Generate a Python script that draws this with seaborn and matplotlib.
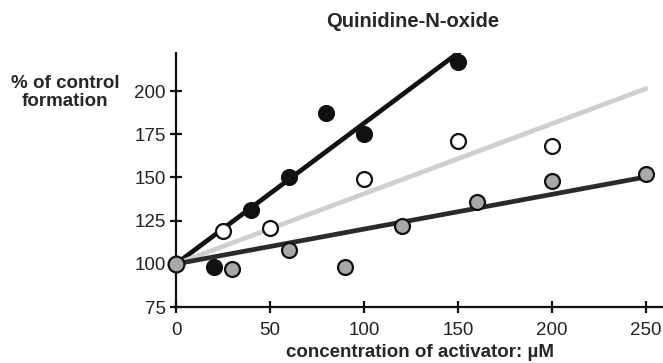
import matplotlib
matplotlib.use("Agg")
import matplotlib.pyplot as plt
import seaborn as sns
import numpy as np
import pandas as pd

# black filled circles
x_black = [0, 20, 40, 60, 80, 100, 150]
y_black = [100, 98, 131, 150, 187, 175, 217]
# open circles
x_open = [0, 25, 50, 100, 150, 200]
y_open = [100, 119, 121, 149, 171, 168]
# grey filled circles
x_grey = [0, 30, 60, 90, 120, 160, 200, 250]
y_grey = [100, 97, 108, 98, 122, 136, 148, 152]

x_ticks = [0, 50, 100, 150, 200, 250]
y_ticks = [75, 100, 125, 150, 175, 200]

sns.set_style("white")
plt.rcParams['font.family'] = ['Liberation Sans', 'DejaVu Sans']

fig = plt.figure(figsize=(6.63, 3.63), dpi=100)
ax = fig.add_axes([0.2655, 0.154, 0.7345, 0.700])


def fit_origin(xs, ys):
    # least squares line forced through (0, 100)
    xs = np.asarray(xs, float)
    ys = np.asarray(ys, float) - 100
    return (xs * ys).sum() / (xs * xs).sum()


xfit = np.array([0, 250])
series = [
    (x_black, y_black, "#111111", "#111111"),
    (x_open, y_open, "#cfcfcf", "white"),
    (x_grey, y_grey, "#2a2a2a", "#a8a8a8"),
]
for xs, ys, lc, fc in series:
    k = fit_origin(xs[1:], ys[1:])
    sns.lineplot(x=xfit, y=100 + k * xfit, color=lc, lw=3.4, ax=ax, zorder=2)

for xs, ys, lc, fc in series[::-1]:
    df = pd.DataFrame({"x": xs[1:], "y": ys[1:]})
    sns.scatterplot(data=df, x="x", y="y", color=fc, edgecolor="#111111",
                    linewidth=1.6, s=115, ax=ax, zorder=3)

# shared origin point
sns.scatterplot(x=[0], y=[100], color="#a8a8a8", edgecolor="#111111",
                linewidth=1.6, s=130, ax=ax, zorder=4, clip_on=False)

ax.set_xlim(0, 259)
ax.set_ylim(75, 222)
ax.set_xticks(x_ticks)
ax.set_yticks(y_ticks)
for s in ["top", "right"]:
    ax.spines[s].set_visible(False)
for s in ["left", "bottom"]:
    ax.spines[s].set_color("#111111")
    ax.spines[s].set_linewidth(1.6)
ax.tick_params(direction="inout", length=9, width=1.6, color="#111111",
               labelsize=13.5, labelcolor="#222222", pad=3, left=True, bottom=True)
ax.tick_params(axis="x", pad=6)

ax.set_xlabel("concentration of activator: µM", fontsize=13.5, fontweight="bold",
              labelpad=4)
ax.set_ylabel("")
fig.text(0.098, 0.745, "% of control\nformation", fontsize=13.5, fontweight="bold",
         ha="center", va="center", linespacing=1.05)
fig.text(0.623, 0.94, "Quinidine-N-oxide", fontsize=14.5, fontweight="bold",
         ha="center", va="center")

fig.savefig("out.png", dpi=100)
